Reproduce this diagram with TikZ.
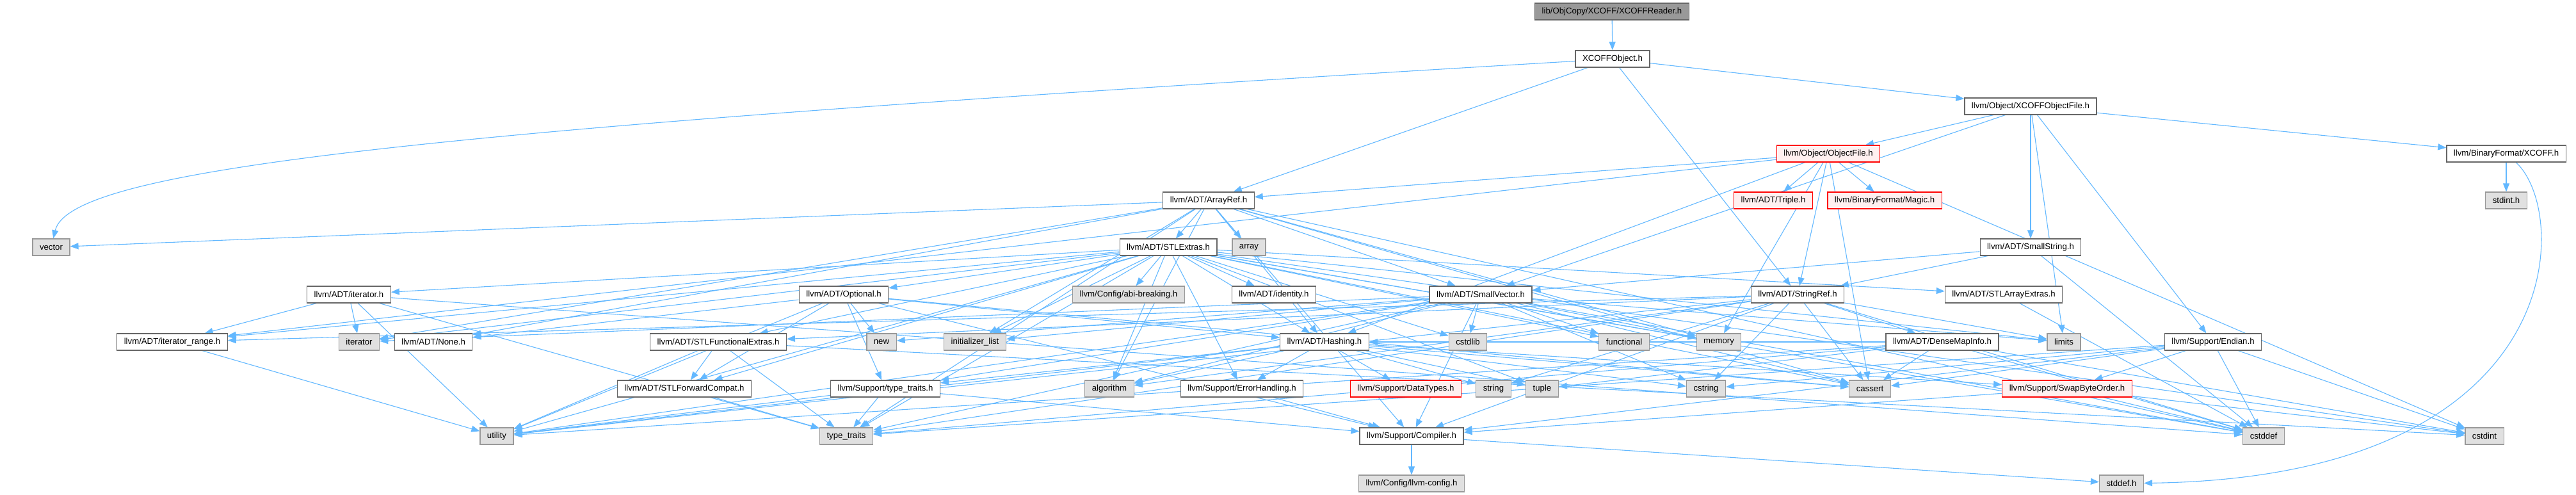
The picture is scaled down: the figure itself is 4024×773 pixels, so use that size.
\documentclass[tikz,border=0pt]{standalone}
\usepackage{fontspec}
\setmainfont{Liberation Sans}
\usetikzlibrary{arrows.meta}
\definecolor{edgec}{HTML}{63B8FF}
\definecolor{ndborder}{HTML}{666666}
\definecolor{sysborder}{HTML}{999999}
\definecolor{sysfill}{HTML}{E0E0E0}
\definecolor{rootfill}{HTML}{999999}
\definecolor{truncfill}{HTML}{FFF0F0}
\definecolor{truncborder}{HTML}{FF0000}
\pgfdeclarelayer{background}
\pgfsetlayers{background,main}
\tikzset{
  nd/.style={draw=ndborder, fill=white, line width=1.2pt, minimum height=26pt,
    inner xsep=11pt, inner ysep=0pt, font=\fontsize{13.2}{15}\selectfont},
  sys/.style={nd, draw=sysborder, fill=sysfill},
  trunc/.style={nd, draw=truncborder, fill=truncfill},
  rootn/.style={nd, fill=rootfill},
  e/.style={draw=edgec, line width=1.1pt, -{Triangle[length=13pt,width=10pt]}},
}
\begin{document}
\begin{tikzpicture}[x=1pt,y=-1pt]
\useasboundingbox (0,0) rectangle (4024,773);
% row 0-5
\node[rootn] (root) at (2518,18) {lib/ObjCopy/XCOFF/XCOFFReader.h};
\node[nd] (xcobj) at (2519,92) {XCOFFObject.h};
\node[nd] (xcof) at (3172,166) {llvm/Object/XCOFFObjectFile.h};
\node[trunc] (objf) at (2856,240) {llvm/Object/ObjectFile.h};
\node[nd] (xcoffh) at (3915,240) {llvm/BinaryFormat/XCOFF.h};
\node[nd] (arrayref) at (1888,313) {llvm/ADT/ArrayRef.h};
\node[trunc] (triple) at (2770,313) {llvm/ADT/Triple.h};
\node[trunc] (magic) at (2944,313) {llvm/BinaryFormat/Magic.h};
\node[sys] (stdinth) at (3915,313) {stdint.h};
\node[sys] (vector) at (80,386) {vector};
\node[nd] (stlextras) at (1825,386) {llvm/ADT/STLExtras.h};
\node[sys] (array) at (1951,386) {array};
\node[nd] (smallstring) at (3172,386) {llvm/ADT/SmallString.h};
% row 6
\node[nd] (iteratorh) at (545,460) {llvm/ADT/iterator.h};
\node[nd] (optional) at (1318,460) {llvm/ADT/Optional.h};
\node[sys] (abi) at (1763,460) {llvm/Config/abi-breaking.h};
\node[nd] (identity) at (1990,460) {llvm/ADT/identity.h};
\node[nd] (smallvector) at (2313,460) {llvm/ADT/SmallVector.h};
\node[nd] (stringref) at (2808,460) {llvm/ADT/StringRef.h};
\node[nd] (stlarray) at (3130,460) {llvm/ADT/STLArrayExtras.h};
% row 7
\node[nd] (iterrange) at (269,534) {llvm/ADT/iterator\_range.h};
\node[sys] (iterator) at (561,534) {iterator};
\node[nd] (none) at (677,534) {llvm/ADT/None.h};
\node[nd] (stlfunc) at (1122,534) {llvm/ADT/STLFunctionalExtras.h};
\node[sys] (new) at (1377,534) {new};
\node[sys] (initlist) at (1523,534) {initializer\_list};
\node[nd] (hashing) at (2069,534) {llvm/ADT/Hashing.h};
\node[sys] (cstdlib) at (2293,534) {cstdlib};
\node[sys] (functional) at (2537,534) {functional};
\node[sys] (memory) at (2685,534) {memory};
\node[nd] (densemap) at (3034,534) {llvm/ADT/DenseMapInfo.h};
\node[sys] (limits) at (3224,534) {limits};
\node[nd] (endian) at (3457,534) {llvm/Support/Endian.h};
% row 8
\node[nd] (stlfwd) at (1069,607) {llvm/ADT/STLForwardCompat.h};
\node[nd] (suptt) at (1383,607) {llvm/Support/type\_traits.h};
\node[sys] (algorithm) at (1733,607) {algorithm};
\node[nd] (errh) at (1940,607) {llvm/Support/ErrorHandling.h};
\node[trunc] (datatypes) at (2196,607) {llvm/Support/DataTypes.h};
\node[sys] (string) at (2333,607) {string};
\node[sys] (tuple) at (2409,607) {tuple};
\node[sys] (cstring) at (2665,607) {cstring};
\node[sys] (cassert) at (2921,607) {cassert};
\node[trunc] (swap) at (3229,607) {llvm/Support/SwapByteOrder.h};
% row 9-10
\node[sys] (utility) at (776,681) {utility};
\node[sys] (typetraits) at (1322,681) {type\_traits};
\node[nd] (compiler) at (2205,681) {llvm/Support/Compiler.h};
\node[sys] (cstddef) at (3536,681) {cstddef};
\node[sys] (cstdint) at (3881,681) {cstdint};
\node[sys] (llvmconfig) at (2205,755) {llvm/Config/llvm-config.h};
\node[sys] (stddefh) at (3314,755) {stddef.h};

\begin{pgfonlayer}{background}
\draw[e] (xcobj) .. controls (700,200) and (110,260) .. (vector);
\draw[e] (xcoffh) .. controls (4015,330) and (4020,745) .. (stddefh);
\foreach \a/\b in {root/xcobj, xcobj/arrayref, xcobj/stringref, xcobj/xcof,
  xcof/objf, xcof/smallstring, xcof/smallvector, xcof/xcoffh, xcof/endian, xcof/limits,
  objf/arrayref, objf/hashing, objf/stringref, objf/triple, objf/iterrange, objf/magic,
  objf/memory, objf/cassert, objf/cstdint,
  xcoffh/stdinth,
  arrayref/hashing, arrayref/none, arrayref/smallvector, arrayref/stlextras, arrayref/compiler,
  arrayref/algorithm, arrayref/array, arrayref/cassert, arrayref/cstddef, arrayref/initlist,
  arrayref/iterator, arrayref/memory, arrayref/typetraits, arrayref/vector,
  stlextras/optional, stlextras/stlarray, stlextras/stlfwd, stlextras/stlfunc, stlextras/identity,
  stlextras/iteratorh, stlextras/iterrange, stlextras/abi, stlextras/errh, stlextras/hashing,
  stlextras/algorithm, stlextras/cassert, stlextras/cstddef, stlextras/cstdint, stlextras/cstdlib,
  stlextras/functional, stlextras/initlist, stlextras/iterator, stlextras/limits, stlextras/memory,
  stlextras/tuple, stlextras/typetraits, stlextras/utility,
  smallstring/smallvector, smallstring/stringref, smallstring/cstddef,
  iteratorh/iterrange, iteratorh/cstddef, iteratorh/iterator, iteratorh/typetraits, iteratorh/utility,
  iterrange/utility,
  optional/hashing, optional/none, optional/stlfwd, optional/compiler, optional/suptt,
  optional/cassert, optional/new, optional/utility,
  stlfunc/stlfwd, stlfunc/cstdint, stlfunc/typetraits, stlfunc/utility,
  stlfwd/typetraits,
  suptt/compiler, suptt/typetraits, suptt/utility,
  hashing/datatypes, hashing/errh, hashing/swap, hashing/suptt, hashing/algorithm,
  hashing/cassert, hashing/cstring, hashing/string, hashing/tuple, hashing/utility,
  errh/compiler,
  smallvector/compiler, smallvector/suptt, smallvector/algorithm, smallvector/cassert,
  smallvector/cstddef, smallvector/cstdlib, smallvector/cstring, smallvector/functional,
  smallvector/initlist, smallvector/iterator, smallvector/limits, smallvector/memory,
  smallvector/new, smallvector/typetraits, smallvector/utility,
  stringref/densemap, stringref/stlfunc, stringref/iterrange, stringref/compiler,
  stringref/algorithm, stringref/cassert, stringref/cstddef, stringref/cstring,
  stringref/limits, stringref/string, stringref/typetraits, stringref/utility,
  densemap/hashing, densemap/cassert, densemap/cstddef, densemap/cstdint, densemap/tuple,
  densemap/typetraits, densemap/utility,
  stlarray/cstddef,
  endian/compiler, endian/swap, endian/cassert, endian/cstddef, endian/cstdint,
  endian/cstring, endian/typetraits,
  swap/compiler, swap/cstddef, swap/cstdint,
  compiler/llvmconfig, compiler/stddefh}
  \draw[e] (\a) -- (\b);
\end{pgfonlayer}
\end{tikzpicture}
\end{document}
